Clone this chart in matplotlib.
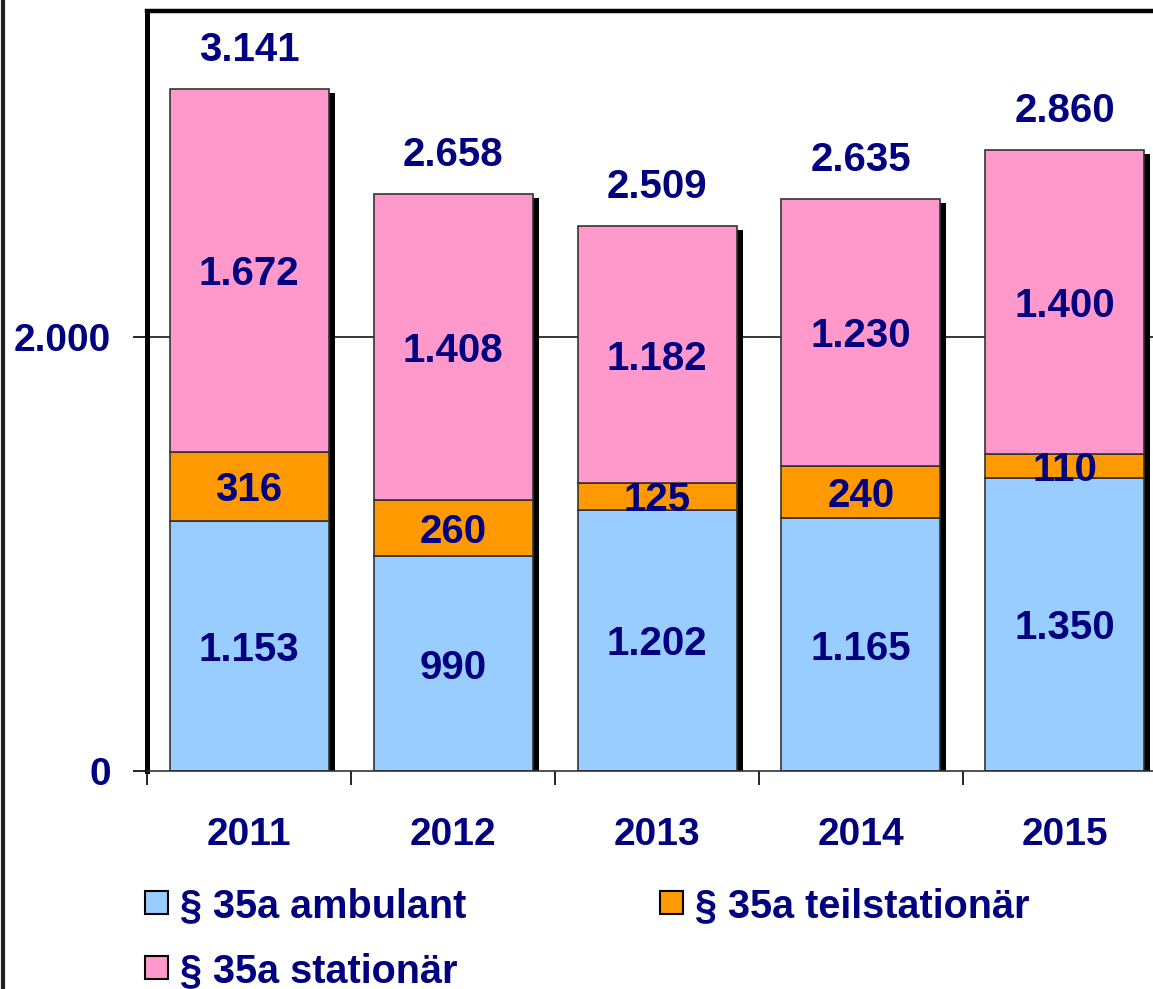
import numpy as np
import matplotlib.pyplot as plt
from matplotlib.patches import Rectangle
from matplotlib.lines import Line2D

plt.rcParams['font.family'] = ['Liberation Sans', 'DejaVu Sans']

# data
years = ["2011", "2012", "2013", "2014", "2015"]
ambulant = [1153, 990, 1202, 1165, 1350]
teilstationaer = [316, 260, 125, 240, 110]
stationaer = [1672, 1408, 1182, 1230, 1400]
totals = [3141, 2658, 2509, 2635, 2860]
series_names = ["§ 35a ambulant", "§ 35a teilstationär", "§ 35a stationär"]
colors = ["#99CCFF", "#FF9900", "#FF99CC"]

navy = "#000080"
W, H = 1153, 989


def fmt(v):
    return f"{v:,}".replace(",", ".")


fig = plt.figure(figsize=(W / 100, H / 100), dpi=100)
ax = fig.add_axes([147 / W, (H - 771) / H, 1020 / W, 760 / H])

x = np.arange(len(years))
width = 159 / 204
px_x = 1 / 204          # one pixel in x data units
px_y = 3500 / 760       # one pixel in y data units

# shadow behind each stacked bar
ax.bar(x + 6 * px_x, np.array(totals) - 4 * px_y, width, color="black", zorder=1)

bottom = np.zeros(len(years))
for vals, c in zip([ambulant, teilstationaer, stationaer], colors):
    vals = np.array(vals)
    ax.bar(x, vals, width, bottom=bottom, color=c, edgecolor="#333333",
           linewidth=1.2, zorder=2)
    for xi, b, v in zip(x, bottom, vals):
        ax.text(xi, b + v / 2 - 4 * px_y, fmt(v), ha="center", va="center",
                fontsize=29, fontweight="bold", color=navy, zorder=3)
    bottom += vals

for xi, t in zip(x, totals):
    ax.text(xi, t + 39 * px_y, fmt(t), ha="center", va="center",
            fontsize=29, fontweight="bold", color=navy)

ax.axhline(2000, color="black", lw=1.1, zorder=0.5)

ax.set_xlim(-0.5, 4.5)
ax.set_ylim(0, 3500)

ax.spines["left"].set_linewidth(3.6)
ax.spines["top"].set_linewidth(3.2)
ax.spines["right"].set_visible(False)
ax.spines["bottom"].set_color("#333333")
ax.spines["bottom"].set_linewidth(1.2)

ax.set_yticks([0, 2000])
ax.set_yticklabels([fmt(v) for v in [0, 2000]], fontsize=28,
                   fontweight="bold", color=navy)
ax.tick_params(axis="y", direction="out", length=10, width=1.2, pad=16)

ax.set_xticks(np.arange(-0.5, 5, 1))
ax.set_xticklabels([])
ax.set_xticks(x, minor=True)
ax.set_xticklabels(years, minor=True, fontsize=28, fontweight="bold", color=navy)
ax.tick_params(axis="x", which="major", direction="out", length=10, width=1.2)
ax.tick_params(axis="x", which="minor", length=0, pad=33)

# frame line at the left edge of the picture
fig.add_artist(Line2D([3 / W, 3 / W], [0, 1], color="#222222", lw=3))

# legend
legend_pos = [(145, 903), (660, 903), (145, 968)]
for name, c, (lx, ly) in zip(series_names, colors, legend_pos):
    fig.add_artist(Rectangle((lx / W, 1 - (ly + 11) / H), 23 / W, 23 / H,
                             facecolor=c, edgecolor="black", lw=1.5))
    fig.text((lx + 35) / W, 1 - (ly + 3) / H, name, ha="left", va="center",
             fontsize=28.5, fontweight="bold", color=navy)

fig.savefig("out.png", dpi=100)
